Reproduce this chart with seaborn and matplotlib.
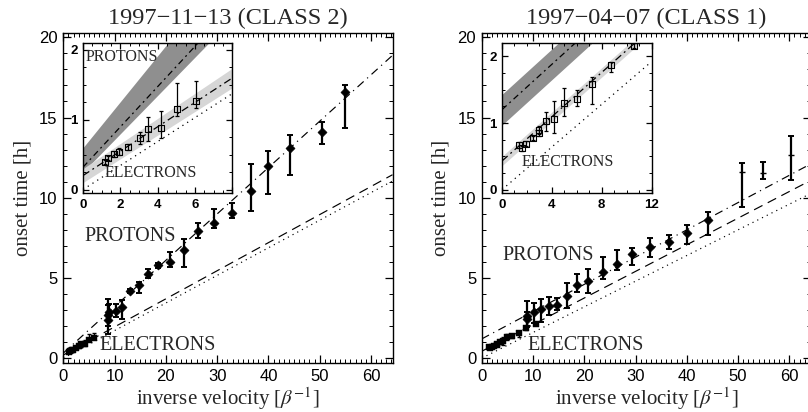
import numpy as np
import pandas as pd
import matplotlib
matplotlib.use("Agg")
import matplotlib.pyplot as plt
import seaborn as sns
from matplotlib.ticker import MultipleLocator

# ---------------- data ----------------
titles = ["1997\u221211\u221213 (CLASS 2)", "1997\u221204\u221207 (CLASS 1)"]

# left event: protons (inverse velocity, onset time, lower, upper)
l_p_x = [8.7, 8.8, 8.9, 10.3, 11.4, 13.0, 14.7, 16.6, 18.5, 20.8, 23.5, 26.2, 29.4, 32.9, 36.6, 40.0, 44.2, 50.5, 54.9]
l_p_y = [2.7, 2.4, 2.9, 2.97, 3.22, 4.21, 4.57, 5.25, 5.81, 6.02, 6.75, 7.93, 8.45, 9.08, 10.44, 12.0, 13.08, 14.12, 16.6]
l_p_lo = [1.5, 2.0, 2.3, 2.55, 2.43, 4.05, 4.05, 4.98, 5.6, 5.67, 5.67, 7.52, 8.14, 8.76, 9.2, 10.24, 11.42, 13.35, 14.37]
l_p_hi = [3.68, 3.3, 3.4, 3.38, 3.63, 4.33, 4.77, 5.55, 5.96, 6.64, 7.45, 8.45, 9.32, 9.7, 12.1, 12.94, 13.9, 14.74, 17.0]
# left event: electrons
l_e_x = [1.18, 1.36, 1.64, 1.95, 2.42, 3.05, 3.5, 4.18, 5.04, 6.05]
l_e_y = [0.40, 0.45, 0.51, 0.54, 0.61, 0.74, 0.87, 0.88, 1.15, 1.27]
l_e_lo = [0.37, 0.42, 0.47, 0.49, 0.57, 0.65, 0.70, 0.74, 1.05, 1.17]
l_e_hi = [0.43, 0.48, 0.55, 0.59, 0.65, 0.82, 1.04, 1.12, 1.52, 1.55]
# left fits: (intercept, slope)
l_fit_p = (0.32, 0.289)
l_band_p = ((0.25, 0.275), (0.60, 0.330))
l_fit_e = (0.20, 0.175)
l_band_e = ((0.10, 0.170), (0.30, 0.180))
l_light = (0.0, 0.172)

# right event: protons
r_p_x = [8.8, 8.9, 10.2, 11.5, 13.1, 14.7, 16.6, 18.5, 20.7, 23.6, 26.3, 29.4, 32.9, 36.6, 40.0, 44.2, 50.7, 54.9, 60.4]
r_p_y = [2.6, 2.45, 2.9, 3.05, 3.26, 3.32, 3.88, 4.57, 4.84, 5.4, 5.88, 6.5, 6.93, 7.23, 7.79, 8.62, 11.63, 11.53, 12.67]
r_p_lo = [1.97, 2.0, 2.18, 2.28, 2.7, 3.0, 3.11, 4.15, 4.05, 4.92, 5.5, 5.81, 6.33, 6.8, 7.1, 7.7, 9.41, 11.15, 11.11]
r_p_hi = [3.59, 2.9, 3.43, 3.68, 3.8, 3.78, 4.67, 5.23, 5.55, 6.33, 6.75, 6.85, 7.5, 7.7, 8.3, 9.1, 12.15, 12.25, 13.87]
# right event: electrons
r_e_x = [1.37, 1.64, 1.96, 2.47, 2.93, 2.98, 3.52, 4.19, 5.0, 6.0, 7.23, 8.73, 10.6]
r_e_y = [0.67, 0.62, 0.69, 0.77, 0.90, 0.85, 1.03, 1.06, 1.30, 1.36, 1.58, 1.87, 2.16]
r_e_lo = [0.63, 0.58, 0.65, 0.74, 0.84, 0.81, 0.88, 0.85, 1.11, 1.26, 1.29, 1.77, 2.12]
r_e_hi = [0.71, 0.66, 0.73, 0.80, 0.96, 0.89, 1.16, 1.33, 1.52, 1.49, 1.69, 1.92, 2.20]
r_fit_p = (1.2, 0.170)
r_band_p = ((0.97, 0.170), (1.43, 0.170))
r_fit_e = (0.43, 0.166)
r_band_e = ((0.36, 0.166), (0.50, 0.166))
r_light = (0.0, 0.160)

# ---------------- style ----------------
sns.set_theme(style="ticks")
plt.rcParams['font.family'] = ['Liberation Serif', 'DejaVu Serif']
plt.rcParams['mathtext.fontset'] = 'stix'
plt.rcParams['axes.linewidth'] = 1.0

W, H = 808, 412
fig = plt.figure(figsize=(W / 100, H / 100), dpi=100)


def px_axes(x0, y0, x1, y1, z=1):
    ax = fig.add_axes([x0 / W, 1 - y1 / H, (x1 - x0) / W, (y1 - y0) / H])
    ax.set_zorder(z)
    return ax


DASHDOT = (0, (7, 4, 1, 4))
LDASH = (0, (8, 5))
DOT = (0, (1, 3.5))


def fit_line(ax, par, xmax, ls, lw=0.85):
    xs = np.array([0.0, xmax])
    df = pd.DataFrame({"x": xs, "y": par[0] + par[1] * xs})
    sns.lineplot(data=df, x="x", y="y", ax=ax, color="black", lw=lw,
                 linestyle=ls, legend=False)


def band(ax, par, xmax, color):
    xs = np.array([0.0, xmax])
    lo = par[0][0] + par[0][1] * xs
    hi = par[1][0] + par[1][1] * xs
    ax.fill_between(xs, lo, hi, color=color, lw=0, zorder=0.5)


def errs(y, lo, hi):
    y = np.asarray(y)
    return [y - np.asarray(lo), np.asarray(hi) - y]


def style_ticks(ax, labsize, bold=False, major=6, minor=3):
    ax.tick_params(which="both", direction="in", top=True, right=True,
                   bottom=True, left=True, colors="black")
    ax.tick_params(which="major", length=major, width=0.9, labelsize=labsize, pad=4)
    ax.tick_params(which="minor", length=minor, width=0.7)
    for lab in ax.get_xticklabels() + ax.get_yticklabels():
        lab.set_family(["Liberation Sans", "DejaVu Sans"])
        if bold:
            lab.set_weight("bold")
    for s in ax.spines.values():
        s.set_color("black")


panels = [
    dict(x0=63.3, title=titles[0], px=l_p_x, py=l_p_y, plo=l_p_lo, phi=l_p_hi,
         ex=l_e_x, ey=l_e_y, elo=l_e_lo, ehi=l_e_hi, fp=l_fit_p, bp=l_band_p,
         fe=l_fit_e, be=l_band_e, fl=l_light, ins_x0=83, ins_xmax=8, ins_ymax=2.1,
         ins_major=2, ins_minor=0.5, ptxt=(4.2, 7.6), etxt=(7.1, 0.77),
         iptxt=(0.16, 1.9), ietxt=(1.15, 0.24), hide_last=True),
    dict(x0=481.7, title=titles[1], px=r_p_x, py=r_p_y, plo=r_p_lo, phi=r_p_hi,
         ex=r_e_x, ey=r_e_y, elo=r_e_lo, ehi=r_e_hi, fp=r_fit_p, bp=r_band_p,
         fe=r_fit_e, be=r_band_e, fl=r_light, ins_x0=502, ins_xmax=12, ins_ymax=2.2,
         ins_major=4, ins_minor=1, ptxt=(4.1, 6.37), etxt=(8.9, 0.77),
         iptxt=None, ietxt=(1.6, 0.42), hide_last=False),
]

XMAX = 64.2
for i, P in enumerate(panels):
    ax = px_axes(P["x0"], 33.3, P["x0"] + 329.2, 363.0, z=1)
    ax.set_facecolor("white")
    fit_line(ax, P["fp"], XMAX, DASHDOT)
    fit_line(ax, P["fe"], XMAX, LDASH)
    fit_line(ax, P["fl"], XMAX, DOT)
    ax.errorbar(P["px"], P["py"], yerr=errs(P["py"], P["plo"], P["phi"]), fmt="none",
                ecolor="black", elinewidth=1.6, capsize=2.5, capthick=1.4, zorder=3)
    pdf = pd.DataFrame({"x": P["px"], "y": P["py"]})
    big = pdf if i == 0 else pdf[pdf["x"] < 48]
    sns.scatterplot(data=big, x="x", y="y", ax=ax, marker="D", s=22, color="black",
                    edgecolor="black", zorder=4, legend=False)
    if i == 1:
        small = pdf[pdf["x"] >= 48]
        sns.scatterplot(data=small, x="x", y="y", ax=ax, marker="_", s=20,
                        color="black", linewidth=1.0, zorder=4, legend=False)
    ax.errorbar(P["ex"], P["ey"], yerr=errs(P["ey"], P["elo"], P["ehi"]), fmt="none",
                ecolor="black", elinewidth=1.0, capsize=1.5, capthick=1.0, zorder=3)
    edf = pd.DataFrame({"x": P["ex"], "y": P["ey"]})
    sns.scatterplot(data=edf, x="x", y="y", ax=ax, marker="s", s=14, color="black",
                    edgecolor="black", zorder=4, legend=False)
    ax.text(*P["ptxt"], "PROTONS", fontsize=14.5, va="center", ha="left")
    ax.text(*P["etxt"], "ELECTRONS", fontsize=14.5, va="center", ha="left")
    ax.set_xlim(0, XMAX)
    ax.set_ylim(-0.3, 20.25)
    ax.xaxis.set_major_locator(MultipleLocator(10))
    ax.xaxis.set_minor_locator(MultipleLocator(1))
    ax.yaxis.set_major_locator(MultipleLocator(5))
    ax.yaxis.set_minor_locator(MultipleLocator(1))
    ax.set_xlabel(r"inverse velocity [$\beta^{-1}$]", fontsize=15, labelpad=1)
    ax.set_ylabel("onset time [h]", fontsize=15, labelpad=5)
    ax.set_title(P["title"], fontsize=17.5, pad=7)
    style_ticks(ax, 12)

    # inset
    ia = px_axes(P["ins_x0"], 43, P["ins_x0"] + 149.5, 193, z=5)
    ia.set_facecolor("white")
    xm = P["ins_xmax"]
    band(ia, P["bp"], xm, "#8f8f8f")
    band(ia, P["be"], xm, "#d6d6d6")
    fit_line(ia, P["fp"], xm, (0, (5, 3, 1.5, 3)), lw=0.9)
    fit_line(ia, P["fe"], xm, (0, (6, 3, 1.5, 3)), lw=0.9)
    fit_line(ia, P["fl"], xm, DOT, lw=0.9)
    ia.errorbar(P["ex"], P["ey"], yerr=errs(P["ey"], P["elo"], P["ehi"]), fmt="none",
                ecolor="black", elinewidth=0.9, capsize=1.5, capthick=0.9, zorder=3)
    sns.scatterplot(data=edf, x="x", y="y", ax=ia, marker="s", s=18,
                    facecolor="none", edgecolor="black", linewidth=0.8, zorder=4, legend=False)
    if P["iptxt"] is not None:
        ia.text(*P["iptxt"], "PROTONS", fontsize=11.5, va="center", ha="left")
    ia.text(*P["ietxt"], "ELECTRONS", fontsize=11.5, va="center", ha="left")
    ia.set_xlim(0, xm)
    ia.set_ylim(-0.05, P["ins_ymax"])
    ia.xaxis.set_major_locator(MultipleLocator(P["ins_major"]))
    ia.xaxis.set_minor_locator(MultipleLocator(P["ins_minor"]))
    ia.yaxis.set_major_locator(MultipleLocator(1))
    ia.yaxis.set_minor_locator(MultipleLocator(0.25))
    ia.set_xlabel("")
    ia.set_ylabel("")
    if P["hide_last"]:
        ticks = np.arange(0, xm + 0.01, P["ins_major"])
        ia.set_xticks(ticks)
        ia.set_xticklabels([f"{t:g}" if t < xm else "" for t in ticks])
    style_ticks(ia, 9.5, bold=True, major=4, minor=2)

fig.savefig("out.png", dpi=100)
